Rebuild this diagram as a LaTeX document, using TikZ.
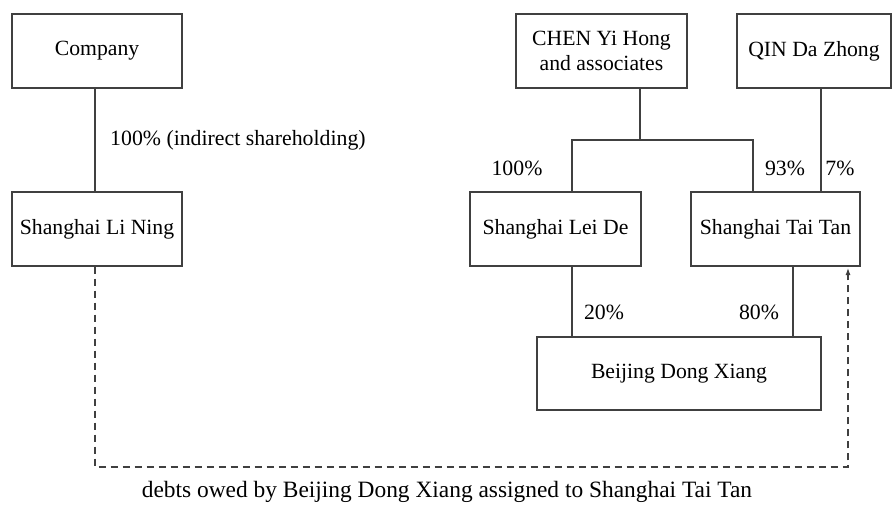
\documentclass[tikz,border=0pt]{standalone}
\usepackage{fontspec}
\setmainfont{Liberation Serif}
\usetikzlibrary{arrows.meta}
\begin{document}
\begin{tikzpicture}[x=1pt,y=-1pt,
  box/.style={draw=black!75,line width=1.1pt,minimum height=74pt,inner sep=0pt,align=center,font=\fontsize{21.7}{25}\selectfont},
  lbl/.style={font=\fontsize{21.8}{25}\selectfont,inner sep=0pt},
  conn/.style={draw=black!75,line width=1.1pt},
  debt/.style={draw=black!75,line width=1.1pt,dash pattern=on 7pt off 5pt}]
\useasboundingbox (0,0) rectangle (893,508);
\node[box,minimum width=170pt] (company) at (97,51) {Company};
\node[box,minimum width=170pt] (lining) at (97,229) {Shanghai Li Ning};
\node[box,minimum width=171pt] (chen) at (601.5,51) {CHEN Yi Hong\\and associates};
\node[box,minimum width=154pt] (qin) at (814,51) {QIN Da Zhong};
\node[box,minimum width=171pt] (leide) at (555.5,229) {Shanghai Lei De};
\node[box,minimum width=169pt] (taitan) at (775.5,229) {Shanghai Tai Tan};
\node[box,minimum width=284pt,minimum height=73pt] (beijing) at (679,373.5) {Beijing Dong Xiang};

\coordinate (split) at (640,140);
\coordinate (corner) at (95,467);
\coordinate (corner2) at (848,467);

\draw[conn] (company.south -| 95,0) -- (lining.north -| 95,0);
\draw[conn] (chen.south -| split) -- (split);
\draw[conn] (leide.north -| 572,0) |- (split) -| (taitan.north -| 753,0);
\draw[conn] (qin.south -| 821,0) -- (taitan.north -| 821,0);
\draw[conn] (leide.south -| 572,0) -- (beijing.north -| 572,0);
\draw[conn] (taitan.south -| 793,0) -- (beijing.north -| 793,0);
\draw[debt,-{Latex[length=7pt,width=5pt]}] (lining.south -| 95,0) -- (corner) -- (corner2) -- (848,268);

\node[lbl,anchor=west] (l1) at (110,140) {100\% (indirect shareholding)};
\node[lbl] (l2) at (517,168) {100\%};
\node[lbl] (l3) at (785,168) {93\%};
\node[lbl] (l4) at (840,168) {7\%};
\node[lbl] (l5) at (604,312) {20\%};
\node[lbl] (l6) at (759,312) {80\%};
\node[lbl,font=\fontsize{23.4}{26}\selectfont] (cap) at (447,492) {debts owed by Beijing Dong Xiang assigned to Shanghai Tai Tan};
\end{tikzpicture}
\end{document}
